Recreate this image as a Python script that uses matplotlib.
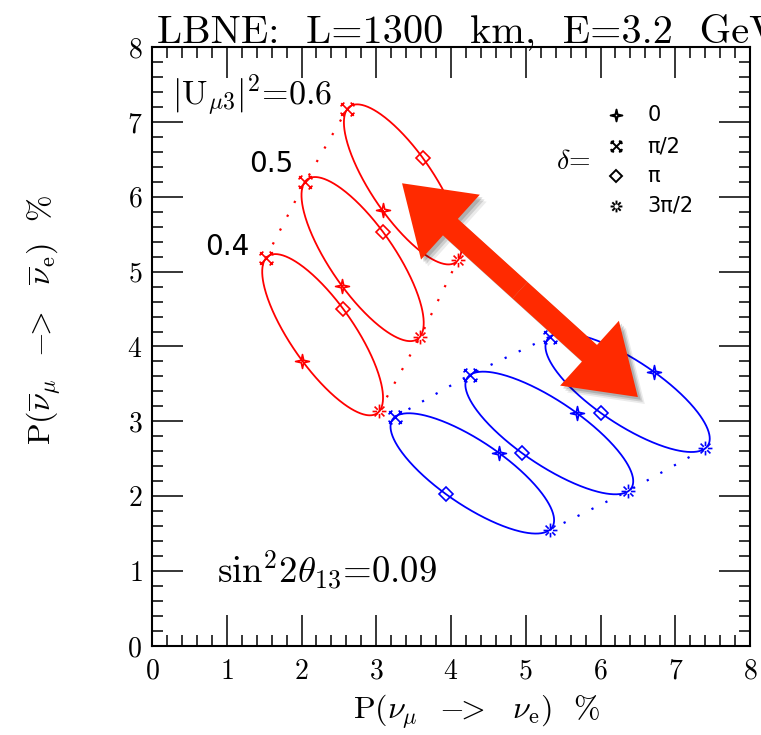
import numpy as np
import matplotlib
matplotlib.use("Agg")
import matplotlib.pyplot as plt
import matplotlib.patheffects as pe
from matplotlib.path import Path
from matplotlib.patches import FancyArrowPatch, ArrowStyle
from matplotlib.ticker import MultipleLocator

plt.rcParams['mathtext.fontset'] = 'cm'
plt.rcParams['font.family'] = 'cmr10'
plt.rcParams['axes.formatter.use_mathtext'] = True

# |U_mu3|^2 values of the three ellipses in each set
u_mu3 = [0.4, 0.5, 0.6]
# oscillation probabilities (%) at delta = 0, pi/2, pi, 3pi/2
red_x = [[2.01, 1.52, 2.56, 3.04],
         [2.54, 2.05, 3.09, 3.59],
         [3.09, 2.61, 3.63, 4.09]]
red_y = [[3.81, 5.18, 4.50, 3.14],
         [4.81, 6.20, 5.53, 4.13],
         [5.82, 7.17, 6.52, 5.15]]
blue_x = [[4.64, 3.25, 3.93, 5.32],
          [5.69, 4.25, 4.95, 6.37],
          [6.72, 5.32, 6.01, 7.40]]
blue_y = [[2.58, 3.06, 2.03, 1.55],
          [3.11, 3.62, 2.58, 2.07],
          [3.66, 4.13, 3.11, 2.64]]
delta_labels = ['0', 'π/2', 'π', '3π/2']

# arrow end points
arrow_a = (3.345, 6.18)
arrow_b = (6.50, 3.325)


def star4():
    ang = np.deg2rad(np.arange(0, 360, 45) + 90)
    r = np.where(np.arange(8) % 2 == 0, 1.0, 0.25)
    v = np.column_stack([r * np.cos(ang), r * np.sin(ang)])
    return Path(np.vstack([v, v[:1]]), closed=True)


def cross_bars():
    verts = [(-1, -1), (1, 1), (-1, 1), (1, -1)]
    codes = [Path.MOVETO, Path.LINETO, Path.MOVETO, Path.LINETO]
    for sx, sy in [(1, 1), (-1, 1), (1, -1), (-1, -1)]:
        cx, cy = 0.8 * sx, 0.8 * sy
        px, py = -sy * 0.3, sx * 0.3
        verts += [(cx - px, cy - py), (cx + px, cy + py)]
        codes += [Path.MOVETO, Path.LINETO]
    return Path(verts, codes)


def burst():
    verts, codes = [], []
    for a in np.deg2rad(np.arange(0, 360, 45)):
        verts += [(0.35 * np.cos(a), 0.35 * np.sin(a)), (np.cos(a), np.sin(a))]
        codes += [Path.MOVETO, Path.LINETO]
    return Path(verts, codes)


markers = [star4(), cross_bars(), 'D', burst()]
msizes = [10, 10, 7, 10]

fig = plt.figure(figsize=(7.61, 7.35), dpi=100)
ax = fig.add_axes([152 / 761, 89 / 735, 598 / 761, 599 / 735])

delta = np.linspace(0, 2 * np.pi, 400)


def draw_set(xs, ys, color):
    for px, py in zip(xs, ys):
        px = np.array(px)
        py = np.array(py)
        cx, cy = px.mean(), py.mean()
        bx, by = (px[0] - px[2]) / 2, (py[0] - py[2]) / 2
        sx, sy = (px[1] - px[3]) / 2, (py[1] - py[3]) / 2
        ax.plot(cx + bx * np.cos(delta) + sx * np.sin(delta),
                cy + by * np.cos(delta) + sy * np.sin(delta),
                color=color, lw=1.3, zorder=3)
        for k in range(4):
            ax.plot(px[k], py[k], marker=markers[k], ms=msizes[k], mfc='none',
                    mec=color, mew=1.2, zorder=4)
    # dotted lines joining the pi/2 and 3pi/2 points
    for k in (1, 3):
        ax.plot([p[k] for p in xs], [p[k] for p in ys], color=color,
                lw=1.6, ls=(0, (1, 6)), zorder=2)


draw_set(red_x, red_y, 'red')
draw_set(blue_x, blue_y, 'blue')

# double arrow with a soft shadow
mid = ((arrow_a[0] + arrow_b[0]) / 2, (arrow_a[1] + arrow_b[1]) / 2)
style = ArrowStyle.Simple(head_length=47, head_width=63, tail_width=16)
for tip in (arrow_a, arrow_b):
    for off, al in [((2, -2), 0.15), ((3.5, -3.5), 0.12), ((5, -5), 0.08)]:
        sh = FancyArrowPatch(mid, tip, arrowstyle=style, mutation_scale=1,
                             shrinkA=0, shrinkB=0, color='#ff2a00', lw=0, zorder=8,
                             path_effects=[pe.SimplePatchShadow(offset=off, shadow_rgbFace='k', alpha=al)])
        ax.add_patch(sh)
for tip in (arrow_a, arrow_b):
    ar = FancyArrowPatch(mid, tip, arrowstyle=style, mutation_scale=1,
                         shrinkA=0, shrinkB=0, color='#ff2a00', lw=0, zorder=9)
    ax.add_patch(ar)

# legend for delta
leg_y = [0.886, 0.834, 0.785, 0.735]
for k in range(4):
    ax.plot(0.776, leg_y[k], marker=markers[k], ms=msizes[k] * 0.85, mfc='none',
            mec='black', mew=1.4, transform=ax.transAxes, zorder=5)
    ax.text(0.828, leg_y[k], delta_labels[k], transform=ax.transAxes, fontsize=15,
            family='DejaVu Sans', va='center', ha='left')
ax.text(0.733, 0.809, r'$\delta$=', transform=ax.transAxes, fontsize=20,
        va='center', ha='right')

ax.text(0.034, 0.903, r'$|\mathrm{U}_{\mu3}|^2$=%.1f' % u_mu3[2], transform=ax.transAxes,
        fontsize=24.5, va='baseline', ha='left')
ax.text(1.89, 6.33, '%.1f' % u_mu3[1], fontsize=20, family='DejaVu Sans',
        va='baseline', ha='right')
ax.text(1.30, 5.22, '%.1f' % u_mu3[0], fontsize=20, family='DejaVu Sans',
        va='baseline', ha='right')
ax.text(0.109, 0.105, r'sin$^2$2$\theta_{13}$=0.09', transform=ax.transAxes,
        fontsize=26.5, va='baseline', ha='left')

ax.text(0.008, 1.008, 'LBNE:  L=1300  km,  E=3.2  GeV', transform=ax.transAxes,
        fontsize=29, va='baseline', ha='left', clip_on=False)

ax.text(0.543, -0.11, r'P($\nu_\mu$  ${-}\!\!{>}$  $\nu_{\rm e}$)  %', transform=ax.transAxes,
        fontsize=23, va='center', ha='center')
ax.text(-0.181, 0.544, r'P($\overline{\nu}_\mu$  ${-}\!\!{>}$  $\overline{\nu}_{\rm e}$)  %',
        transform=ax.transAxes, fontsize=23, va='center', ha='center', rotation=90)

ax.set_xlim(0, 8)
ax.set_ylim(0, 8)
ax.xaxis.set_major_locator(MultipleLocator(1))
ax.yaxis.set_major_locator(MultipleLocator(1))
ax.xaxis.set_minor_locator(MultipleLocator(0.2))
ax.yaxis.set_minor_locator(MultipleLocator(0.2))
ax.tick_params(which='both', direction='in', top=True, right=True, width=1.1,
               labelsize=20)
ax.tick_params(which='major', length=22)
ax.tick_params(which='minor', length=8)
ax.tick_params(axis='x', pad=9)
ax.tick_params(axis='y', pad=7)
for s in ax.spines.values():
    s.set_linewidth(1.5)

fig.savefig('out.png', dpi=100)
